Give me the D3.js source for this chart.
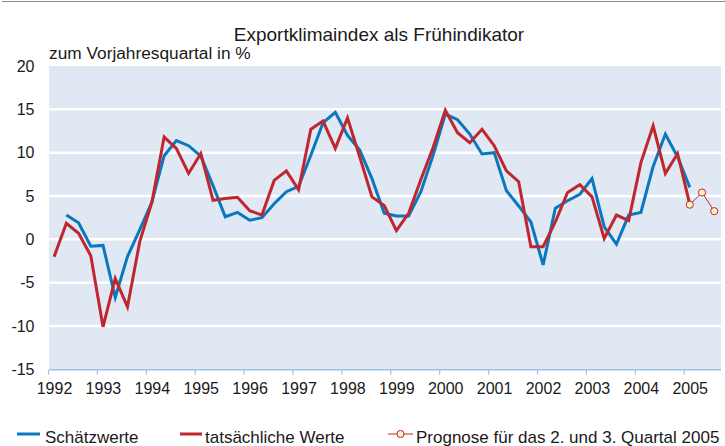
<!DOCTYPE html>
<html>
<head>
<meta charset="utf-8">
<script src="https://cdn.jsdelivr.net/npm/d3@7"></script>
<style>
  body { margin: 0; background: #fff; }
  text { font-family: "Liberation Sans", Arial, sans-serif; fill: #1a1a1a; }
</style>
</head>
<body>
<script>
// quarterly values, first quarter of each series given by start year / quarter
var years = [1992,1993,1994,1995,1996,1997,1998,1999,2000,2001,2002,2003,2004,2005];
var yTicks = [-15,-10,-5,0,5,10,15,20];

var actualStart = [1992, 1];
var actual = [
  -2.0, 1.85, 0.7, -1.9,
  -10.1, -4.5, -7.8, -0.3,
  4.3, 11.8, 10.5, 7.6,
  9.9, 4.5, 4.7, 4.85,
  3.3, 2.8, 6.8, 7.9,
  5.7, 12.7, 13.65, 10.5,
  14.0, 9.5, 4.9, 3.9,
  1.0, 3.0, 6.9, 10.6,
  14.9, 12.3, 11.15, 12.7,
  10.8, 7.9, 6.65, -0.85,
  -0.85, 2.0, 5.4, 6.3,
  4.9, 0.1, 2.8, 2.15,
  8.85, 13.1, 7.6, 9.9,
  4.0
];

var estimateStart = [1992, 2];
var estimate = [
  2.8, 1.9, -0.8,
  -0.7, -6.7, -2.0, 1.1,
  4.3, 9.65, 11.4, 10.8,
  9.6, 6.2, 2.6, 3.1,
  2.2, 2.5, 4.1, 5.5,
  6.1, 9.7, 13.45, 14.65,
  12.0, 10.3, 7.0, 3.0,
  2.7, 2.7, 5.5, 9.7,
  14.45, 13.8, 12.15, 9.85,
  10.0, 5.6, 3.85, 2.0,
  -2.95, 3.6, 4.45, 5.2,
  7.0, 1.45, -0.55, 2.8,
  3.1, 8.4, 12.15, 9.5,
  6.0
];

var forecastStart = [2005, 1];
var forecast = [4.0, 5.4, 3.25];

var legendLabels = ["Schätzwerte", "tatsächliche Werte", "Prognose für das 2. und 3. Quartal 2005"];

var W = 725, H = 446;
var blue = "#0a77bf", red = "#c0262e";

var svg = d3.select("body").append("svg")
    .attr("width", W)
    .attr("height", H);

var x = d3.scaleLinear().domain([1992, 2005]).range([48, 683.7]);
var y = d3.scaleLinear().domain([-15, 20]).range([369.3, 66]);
var plotLeft = 49, plotRight = 721;

function toPoints(start, vals){
  return vals.map(function(v, i){
    var q = start[1] - 1 + i;
    return { t: start[0] + (q + 0.5) / 4, v: v };
  });
}

// frame line on top
svg.append("line")
  .attr("x1", 2).attr("x2", W).attr("y1", 1.5).attr("y2", 1.5)
  .style("stroke", "#8a8a8a").style("stroke-width", 1.2);

// title
svg.append("text")
  .attr("x", 379).attr("y", 41)
  .attr("text-anchor", "middle")
  .style("font-size", "19px")
  .text("Exportklimaindex als Frühindikator");
svg.append("text")
  .attr("x", 49).attr("y", 59)
  .style("font-size", "17.3px")
  .text("zum Vorjahresquartal in %");

// plot background
svg.append("rect")
  .attr("x", plotLeft).attr("y", y(20))
  .attr("width", plotRight - plotLeft).attr("height", y(-15) - y(20))
  .style("fill", "#e0e8f3");

// white gridlines
svg.selectAll(".grid")
  .data(yTicks.filter(function(d){ return d > -15 && d < 20; }))
  .enter().append("line")
  .attr("class", "grid")
  .attr("x1", plotLeft).attr("x2", plotRight)
  .attr("y1", function(d){ return y(d); })
  .attr("y2", function(d){ return y(d); })
  .style("stroke", "#fff").style("stroke-width", 2.5);

// y labels
svg.selectAll(".ylab")
  .data(yTicks)
  .enter().append("text")
  .attr("class", "ylab")
  .attr("x", 34.5)
  .attr("y", function(d){ return y(d); })
  .attr("dy", "0.36em")
  .attr("text-anchor", "end")
  .style("font-size", "16px")
  .text(function(d){ return d; });

// x axis
var xAxis = svg.append("g")
  .attr("transform", "translate(0," + (y(-15) + 0.5) + ")")
  .call(d3.axisBottom(x).tickValues(years).tickSize(5).tickFormat(d3.format("d")).tickSizeOuter(0));
xAxis.select(".domain")
  .attr("d", "M" + plotLeft + ",0H" + plotRight)
  .style("stroke", "#9cc2e6").style("stroke-width", 1.5);
xAxis.selectAll(".tick line").style("stroke", "#9cc2e6").style("stroke-width", 1.2);
xAxis.selectAll(".tick text")
  .attr("x", 6).attr("y", 13)
  .style("font-size", "16px")
  .style("font-family", "'Liberation Sans', Arial, sans-serif")
  .style("fill", "#1a1a1a");

var line = d3.line()
  .x(function(d){ return x(d.t); })
  .y(function(d){ return y(d.v); });

svg.append("path")
  .datum(toPoints(estimateStart, estimate))
  .attr("d", line)
  .style("fill", "none").style("stroke", blue).style("stroke-width", 3)
  .style("stroke-linejoin", "miter");

svg.append("path")
  .datum(toPoints(actualStart, actual))
  .attr("d", line)
  .style("fill", "none").style("stroke", red).style("stroke-width", 3)
  .style("stroke-linejoin", "miter");

var fc = toPoints(forecastStart, forecast);
svg.append("path")
  .datum(fc)
  .attr("d", line)
  .style("fill", "none").style("stroke", red).style("stroke-width", 1);
svg.selectAll(".fc")
  .data(fc)
  .enter().append("circle")
  .attr("class", "fc")
  .attr("cx", function(d){ return x(d.t); })
  .attr("cy", function(d){ return y(d.v); })
  .attr("r", 3.6)
  .style("fill", "#fdf0c2").style("stroke", red).style("stroke-width", 1);

// legend
var ly = 434;
var legend = [
  { x1: 17, x2: 40, tx: 45, color: blue, w: 3, dot: false },
  { x1: 180, x2: 202, tx: 205, color: red, w: 3, dot: false },
  { x1: 388, x2: 413, tx: 416, color: red, w: 1, dot: true }
];
legend.forEach(function(l, i){
  svg.append("line")
    .attr("x1", l.x1).attr("x2", l.x2).attr("y1", ly).attr("y2", ly)
    .style("stroke", l.color).style("stroke-width", l.w);
  if(l.dot){
    svg.append("circle")
      .attr("cx", (l.x1 + l.x2) / 2).attr("cy", ly).attr("r", 3.6)
      .style("fill", "#fdf0c2").style("stroke", red).style("stroke-width", 1);
  }
  svg.append("text")
    .attr("x", l.tx).attr("y", 443)
    .style("font-size", "17px")
    .text(legendLabels[i]);
});
</script>
</body>
</html>
